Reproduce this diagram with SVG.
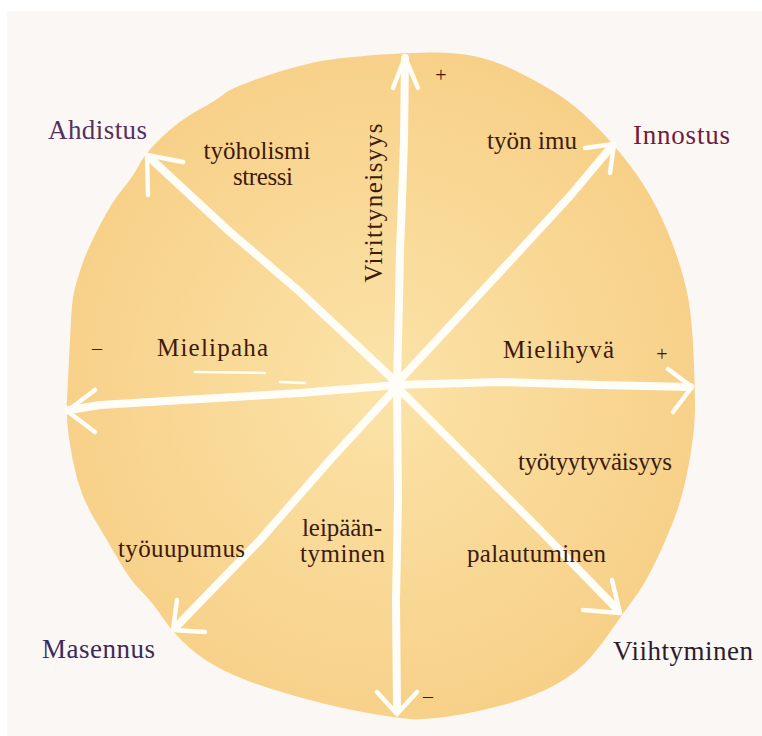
<svg xmlns="http://www.w3.org/2000/svg" width="762" height="736" viewBox="0 0 762 736">
  <defs>
    <radialGradient id="disc" cx="0.5" cy="0.5" r="0.55">
      <stop offset="0" stop-color="#fbe3a8"/>
      <stop offset="1" stop-color="#f7cf86"/>
    </radialGradient>
    <style>
      .t { font-family: "Liberation Serif", "DejaVu Serif", serif; }
      .inner { fill: #3d1a0c; font-size: 25px; }
      .outer { font-size: 27px; }
      .sign { fill: #3a1a0a; font-size: 20px; }
      .shaft { fill: none; stroke: #fffdf8; stroke-width: 8; stroke-linecap: round; stroke-linejoin: round; }
      .barb { fill: none; stroke: #fffdf8; stroke-width: 4.5; stroke-linecap: round; stroke-linejoin: round; }
      .fleck { fill: none; stroke: #fffdf8; stroke-width: 2.5; stroke-linecap: round; }
    </style>
  </defs>

  <rect x="0" y="0" width="762" height="736" fill="#ffffff"/>
  <rect x="7" y="11" width="755" height="725" fill="#fbf7f4"/>

  <g id="disc-shape">
    <path fill="url(#disc)" d="M429.5,52.5 Q454,52 473.5,56 Q493,60 512,69 Q531,78 552,90.5 Q573,103 593,123 Q613,143 629,164 Q645,185 656.5,207.5 Q668,230 676.5,255 Q685,280 688.5,300 Q692,320 693.5,353.5 Q695,387 695,408.5 Q695,430 689,463.5 Q683,497 673,522 Q663,547 653,567 Q643,587 633,600 Q623,613 613,628 Q603,643 590,658 Q577,673 555,685 Q533,697 503,705 Q473,713 448,716.5 Q423,720 410,719 Q397,718 373.5,714 Q350,710 323.5,703.5 Q297,697 270,688.5 Q243,680 223,670 Q203,660 188,646.5 Q173,633 163,618 Q153,603 141.5,591.5 Q130,580 118.5,560 Q107,540 95,520 Q83,500 77.5,480 Q72,460 69,438.5 Q66,417 67,398.5 Q68,380 69,360 Q70,340 71,320 Q72,300 74.5,290 Q77,280 82,265 Q87,250 100,225 Q113,200 123,188.5 Q133,177 139,165 Q145,153 162.5,136.5 Q180,120 198.5,110 Q217,100 224.5,93.5 Q232,87 270.5,74.5 Q309,62 334.5,59 Q360,56 382.5,54.5 Q405,53 429.5,52.5 Z"/>
  </g>

  <g id="connectors">
    <!-- up: Virittyneisyys + -->
    <path class="shaft" d="M397,383 L399,300 L400,250 L402,200 L404,140 L405,58"/>
    <path class="barb" d="M393,88 L405,57 L418,88"/>
    <!-- up-left: Ahdistus -->
    <path class="shaft" d="M397,383 L300,292 L230,232 L150,158"/>
    <path class="barb" d="M183,162 L147,155 L148,195"/>
    <!-- up-right: Innostus -->
    <path class="shaft" d="M397,383 L500,272 L570,196 L612,146"/>
    <path class="barb" d="M585,148 L614,144 L610,173"/>
    <!-- right: Mielihyvä + -->
    <path class="shaft" d="M397,385 L500,382 L600,385 L690,387"/>
    <path class="barb" d="M668,369 L692,387 L673,412"/>
    <!-- left: Mielipaha - -->
    <path class="shaft" d="M397,385 L300,393 L200,399 L100,405 L69,410"/>
    <path class="barb" d="M95,390 L67,411 L95,432"/>
    <!-- down: - -->
    <path class="shaft" d="M397,387 L398,500 L396,600 L397,710"/>
    <path class="barb" d="M377,692 L397,714 L417,692"/>
    <!-- down-left: Masennus -->
    <path class="shaft" d="M397,387 L330,460 L260,540 L176,627"/>
    <path class="barb" d="M205,632 L173,630 L177,600"/>
    <!-- down-right: Viihtyminen -->
    <path class="shaft" d="M397,387 L470,460 L540,530 L617,609"/>
    <path class="barb" d="M583,610 L620,613 L612,580"/>
    <!-- stray brush flecks -->
    <path class="fleck" d="M195,372 L265,373"/>
    <path class="fleck" d="M280,382 L305,383"/>
  </g>

  <g id="node-virittyneisyys">
    <text class="t inner" transform="translate(382,203) rotate(-90)" text-anchor="middle" font-size="26" textLength="159">Virittyneisyys</text>
    <text class="t sign" x="441" y="82" text-anchor="middle">+</text>
  </g>

  <g id="node-ahdistus">
    <text class="t outer" x="48" y="139" fill="#553060" textLength="99">Ahdistus</text>
  </g>
  <g id="node-tyoholismi">
    <text class="t inner" x="257" y="159" text-anchor="middle" font-size="22" textLength="107">työholismi</text>
    <text class="t inner" x="263" y="185" text-anchor="middle" font-size="22" textLength="60">stressi</text>
  </g>

  <g id="node-innostus">
    <text class="t outer" x="633" y="144" fill="#6e1c3c" textLength="97">Innostus</text>
  </g>
  <g id="node-tyon-imu">
    <text class="t inner" x="487" y="149" textLength="90">työn imu</text>
  </g>

  <g id="node-mielipaha">
    <text class="t sign" x="97" y="355" text-anchor="middle">–</text>
    <text class="t inner" x="157" y="356" font-size="27" textLength="111">Mielipaha</text>
  </g>

  <g id="node-mielihyva">
    <text class="t inner" x="503" y="358" font-size="27" textLength="111">Mielihyvä</text>
    <text class="t sign" x="662" y="361" text-anchor="middle">+</text>
  </g>

  <g id="node-tyotyytyvaisyys">
    <text class="t inner" x="518" y="470" textLength="154">työtyytyväisyys</text>
  </g>

  <g id="node-palautuminen">
    <text class="t inner" x="467" y="562" textLength="139">palautuminen</text>
  </g>

  <g id="node-viihtyminen">
    <text class="t outer" x="613" y="660" fill="#2c1c2c" textLength="140">Viihtyminen</text>
  </g>

  <g id="node-tyouupumus">
    <text class="t inner" x="118" y="557" textLength="127">työuupumus</text>
  </g>

  <g id="node-leipaantyminen">
    <text class="t inner" x="302" y="536" textLength="80">leipään-</text>
    <text class="t inner" x="300" y="562" textLength="85">tyminen</text>
  </g>

  <g id="node-masennus">
    <text class="t outer" x="42" y="658" fill="#3c2a5c" textLength="113">Masennus</text>
  </g>

  <g id="node-minus-bottom">
    <text class="t sign" x="428" y="703" text-anchor="middle">–</text>
  </g>
</svg>
